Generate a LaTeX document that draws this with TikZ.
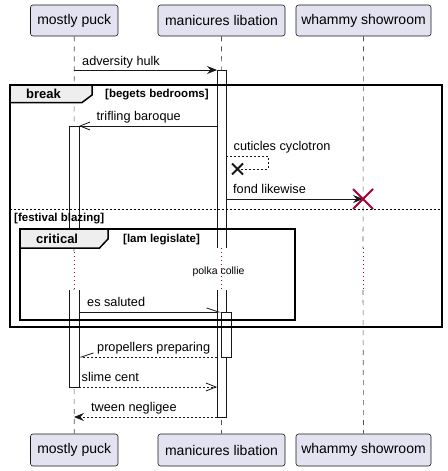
\documentclass[tikz,border=0pt]{standalone}
\usepackage{fontspec}
\setmainfont{Liberation Sans}
\usetikzlibrary{arrows.meta}
\definecolor{pfill}{HTML}{E2E2F0}
\definecolor{pline}{HTML}{181818}
\definecolor{tabfill}{HTML}{EEEEEE}
\definecolor{xred}{HTML}{A80036}
\begin{document}
\begin{tikzpicture}[x=1pt,y=-1pt,
  part/.style={draw=pline, fill=pfill, rounded corners=2.5pt, line width=0.6pt, inner sep=0pt, minimum height=31pt, font=\fontsize{14}{16}\selectfont},
  life/.style={draw=pline!75, line width=0.6pt, dash pattern=on 5pt off 5pt},
  delayline/.style={draw=xred, line width=1pt, dash pattern=on 1pt off 3pt},
  barbox/.style={draw=pline, fill=white, line width=0.8pt},
  msg/.style={draw=pline, line width=0.8pt},
  retmsg/.style={msg, dash pattern=on 2pt off 2pt},
  fullhead/.style={-{Stealth[length=10pt,width=8pt,inset=3.5pt]}},
  openhead/.style={-{Straight Barb[length=10pt,width=8pt,line width=0.8pt]}},
  halfleft/.style={-{Straight Barb[left,length=12pt,width=8pt,line width=0.8pt]}},
  halfright/.style={-{Straight Barb[right,length=12pt,width=8pt,line width=0.8pt]}},
  frameline/.style={draw=black, line width=1.5pt},
  tabshape/.style={draw=black, fill=tabfill, line width=1.5pt},
  msgtxt/.style={anchor=base west, inner sep=0pt, font=\fontsize{12.7}{15}\selectfont},
  boldlbl/.style={anchor=base west, inner sep=0pt, font=\fontsize{13}{15}\selectfont\bfseries},
  guardtxt/.style={anchor=base west, inner sep=0pt, font=\fontsize{11.5}{13}\selectfont\bfseries},
  xmark/.style={line width=2pt, line cap=butt}
]
\useasboundingbox (0,0) rectangle (447,471);

% participants
\node[part, minimum width=87.5pt] (mpT) at (74.25,20.5) {mostly puck};
\node[part, minimum width=127pt] (mlT) at (221.5,20.5) {manicures libation};
\node[part, minimum width=135pt] (wsT) at (363.5,20.5) {whammy showroom};
\node[part, minimum width=87.5pt, minimum height=32pt] (mpB) at (74.25,450) {mostly puck};
\node[part, minimum width=127pt, minimum height=32pt] (mlB) at (221.5,450) {manicures libation};
\node[part, minimum width=135pt, minimum height=32pt] (wsB) at (363.5,450) {whammy showroom};

% delay coordinates
\coordinate (mpD1) at (74,252);
\coordinate (mpD2) at (74,289);
\coordinate (mlD1) at (221,248);
\coordinate (mlD2) at (221,290);
\coordinate (wsD1) at (363,248);
\coordinate (wsD2) at (363,290);

% lifelines
\draw[life] (mpT.south) -- (mpD1);
\draw[life] (mpD2) -- (mpB.north);
\draw[life] (mlT.south) -- (mlD1);
\draw[life] (mlD2) -- (mlB.north);
\draw[life] (wsT.south) -- (wsD1);
\draw[life] (wsD2) -- (wsB.north);
\draw[delayline] (mpD1) -- (mpD2);
\draw[delayline] (mlD1) -- (mlD2);
\draw[delayline] (wsD1) -- (wsD2);

% activation bars
\filldraw[barbox] (69,248) -- (69,126) -- (79,126) -- (79,248);
\filldraw[barbox] (69,290) -- (69,387) -- (79,387) -- (79,290);
\filldraw[barbox] (217,248) -- (217,70) -- (226,70) -- (226,248);
\filldraw[barbox] (217,290) -- (217,417) -- (226,417) -- (226,290);
\filldraw[barbox] (221,312) rectangle (231,357);

% frames
\draw[frameline] (10,85) rectangle (442,327);
\draw[tabshape] (10,85) -- (92,85) -- (92,95) -- (82,102.5) -- (10,102.5) -- cycle;
\node[boldlbl] (brk) at (26,98) {break};
\node[guardtxt] (brkg) at (105,97) {[begets bedrooms]};
\draw[draw=black, line width=0.8pt, dash pattern=on 2pt off 2pt] (10,209) -- (442,209);
\node[guardtxt] (fest) at (14,221) {[festival blazing]};

\draw[frameline] (20,229) rectangle (295,320);
\draw[tabshape] (20,229) -- (108,229) -- (108,239) -- (99.5,248) -- (20,248) -- cycle;
\node[boldlbl] (crit) at (36,243.5) {critical};
\node[guardtxt] (critg) at (123,242) {[lam legislate]};

\node[anchor=base, inner sep=0pt, font=\fontsize{10.5}{13}\selectfont] (polka) at (218.5,274) {polka collie};

% message coordinates
\coordinate (a1) at (74,70);   \coordinate (a2) at (217,70);
\coordinate (b1) at (217,126); \coordinate (b2) at (79,126);
\coordinate (c1) at (226,156); \coordinate (c2) at (268,156);
\coordinate (c3) at (268,169); \coordinate (c4) at (240,169);
\coordinate (cx) at (237.5,169);
\coordinate (d1) at (226,199); \coordinate (d2) at (363,199);
\coordinate (e1) at (79,312);  \coordinate (e2) at (221,312);
\coordinate (f1) at (217,357); \coordinate (f2) at (79,357);
\coordinate (g1) at (79,387);  \coordinate (g2) at (217,387);
\coordinate (h1) at (217,417); \coordinate (h2) at (74,417);

% messages
\draw[msg, fullhead] (a1) -- (a2);
\node[msgtxt] (ta) at (82,65.5) {adversity hulk};
\draw[msg, openhead] (b1) -- (b2);
\node[msgtxt] (tb) at (96.5,120.5) {trifling baroque};
\draw[retmsg] (c1) -- (c2) -- (c3) -- (c4);
\draw[xmark, pline] ([shift={(-5.5,-5.5)}]cx) -- ([shift={(5.5,5.5)}]cx)
  ([shift={(-5.5,5.5)}]cx) -- ([shift={(5.5,-5.5)}]cx);
\node[msgtxt] (tc) at (233.5,150) {cuticles cyclotron};
\draw[msg, fullhead] (d1) -- (d2);
\draw[xmark, xred] ([shift={(-10,-10)}]d2) -- ([shift={(10,10)}]d2)
  ([shift={(-10,10)}]d2) -- ([shift={(10,-10)}]d2);
\node[msgtxt] (td) at (233,193.5) {fond likewise};
\draw[msg, halfleft] (e1) -- (e2);
\node[msgtxt] (te) at (87,306) {es saluted};
\draw[retmsg, halfright] (f1) -- (f2);
\node[msgtxt] (tf) at (97,351) {propellers preparing};
\draw[retmsg, openhead] (g1) -- (g2);
\node[msgtxt] (tg) at (81.5,381.5) {slime cent};
\draw[retmsg, fullhead] (h1) -- (h2);
\node[msgtxt] (th) at (91,411.5) {tween negligee};
\end{tikzpicture}
\end{document}
